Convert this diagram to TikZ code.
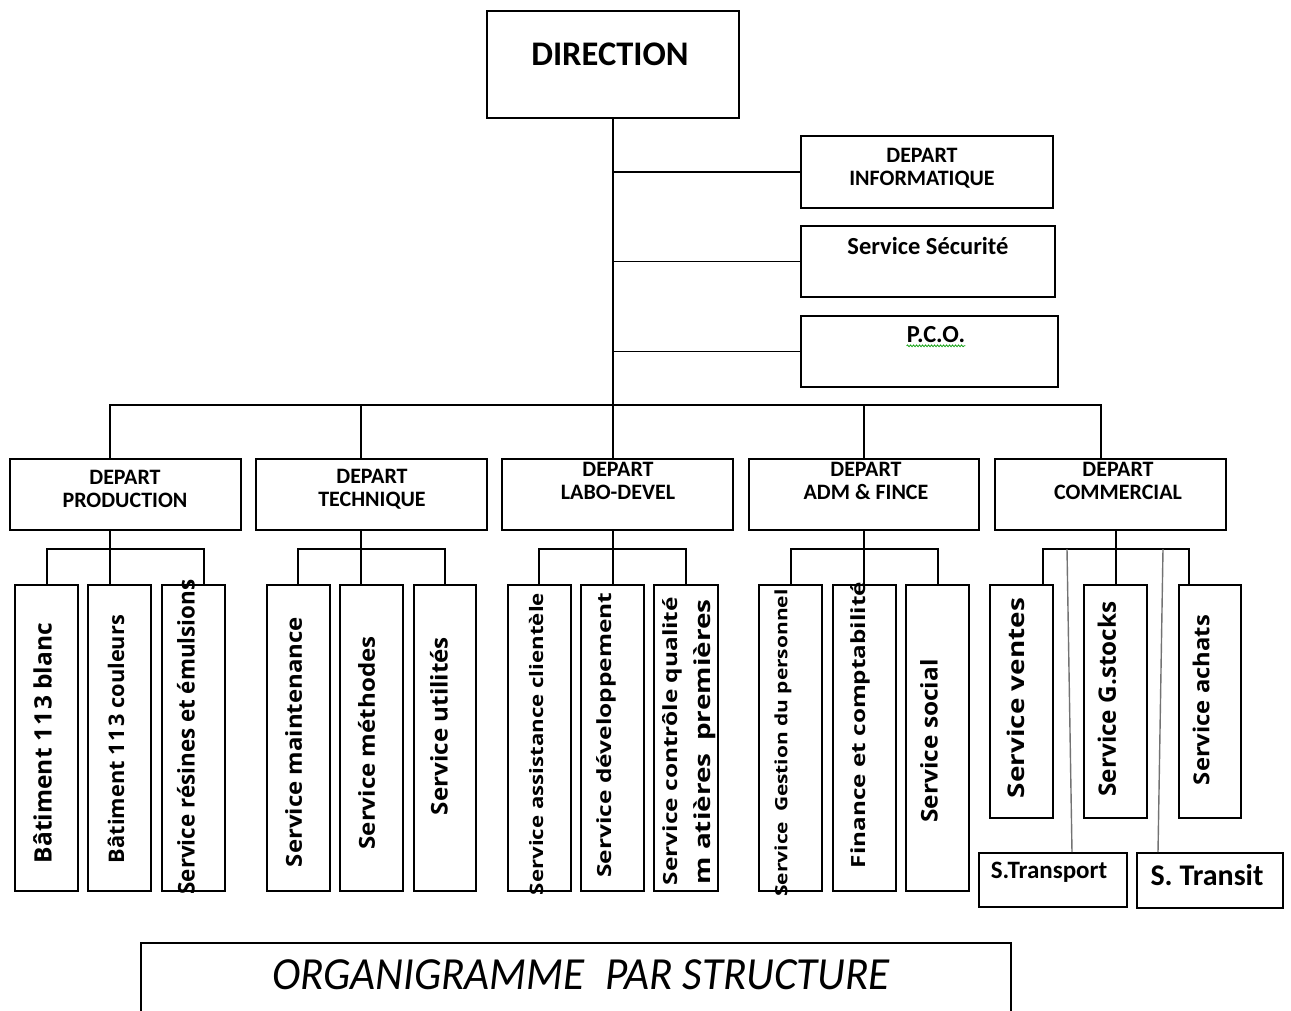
\documentclass[tikz,border=0pt]{standalone}
\usepackage{fontspec}
\setmainfont{Carlito}
\newfontfamily\vfont{Open Sans}
\usepackage{graphicx}
\usetikzlibrary{decorations.pathmorphing}
\tikzset{
  box/.style={draw=black, line width=1.6pt, inner sep=0pt},
  lnk/.style={draw=black, line width=1.6pt},
  glnk/.style={draw=black!55, line width=1.4pt},
  hd/.style={font=\bfseries\fontsize{22}{22.5}\selectfont, inner sep=0pt, align=center},
  vt/.style={rotate=90, inner sep=0pt},
}
\newcommand\bx[5]{\node[box,minimum width={(#4-#2)*1pt},minimum height={(#5-#3)*1pt}] (#1) at ({(#2+#4)/2},{(#3+#5)/2}) {};}
\newcommand\vtext[3]{\resizebox{#1pt}{\height}{\vfont\bfseries\fontsize{#2}{#2}\selectfont #3}}
\begin{document}
\begin{tikzpicture}[x=1pt,y=-1pt]
\useasboundingbox (0,0) rectangle (1291,1010);
\clip (0,0) rectangle (1291,1010);
% top
\bx{dir}{487}{11}{739}{118}
\node[inner sep=0pt, font=\bfseries\fontsize{34.5}{34.5}\selectfont] (dirt) at (610,54) {DIRECTION};
\bx{info}{801}{136}{1053}{208}
\node[hd] (infot) at (922,168) {DEPART\\INFORMATIQUE};
\bx{secu}{801}{226}{1055}{297}
\node[inner sep=0pt, font=\bfseries\fontsize{24.5}{24.5}\selectfont] (secut) at (928,246) {Service Sécurité};
\bx{pco}{801}{316}{1058}{387}
\node[inner sep=0pt, font=\bfseries\fontsize{24.5}{24.5}\selectfont] (pcot) at (936,335) {P.C.O.};
\draw[green!60!black, line width=0.7pt, decorate, decoration={snake, amplitude=0.9pt, segment length=3pt}] ([yshift=-2.5pt]pcot.south west) -- ([yshift=-2.5pt]pcot.south east);
% departments
\bx{prod}{10}{459}{241}{530}
\node[hd] (prodt) at (125,489) {DEPART\\PRODUCTION};
\bx{tech}{256}{459}{487}{530}
\node[hd] (techt) at (372,489) {DEPART\\TECHNIQUE};
\bx{labo}{502}{459}{733}{530}
\node[hd] (labot) at (618,481) {DEPART\\LABO-DEVEL};
\bx{adm}{749}{459}{979}{530}
\node[hd] (admt) at (866,481) {DEPART\\ADM \& FINCE};
\bx{comm}{995}{459}{1226}{530}
\node[hd] (commt) at (1118,481) {DEPART\\COMMERCIAL};
% trunk and branches
\draw[lnk] (dir.south) -- (dir.south |- labo.north);
\draw[lnk] (dir.south |- info.west) -- (info.west);
\draw[lnk] (dir.south |- secu.west) -- (secu.west);
\draw[lnk] (dir.south |- pco.west) -- (pco.west);
\coordinate (bl) at (110,405);
\coordinate (br) at (1101,405);
\draw[lnk] (bl |- prod.north) -- (bl) -- (br) -- (br |- comm.north);
\draw[lnk] (361,405) -- (361,0 |- tech.north);
\draw[lnk] (864,405) -- (864,0 |- adm.north);
% production services
\bx{p1}{15}{585}{78}{891}
\bx{p2}{88}{585}{151}{891}
\bx{p3}{162}{585}{225}{891}
\draw[lnk] (110,0 |- prod.south) -- (110,0 |- p2.north);
\draw[lnk] (47,0 |- p1.north) -- (47,549) -- (204,549) -- (204,0 |- p3.north);
\node[vt] (p1t) at (42.5,743) {\vtext{240}{24}{Bâtiment 1\kern2pt1\kern2pt3 blanc}};
\node[vt] (p2t) at (116,739) {\vtext{248}{21.5}{Bâtiment 1\kern2pt1\kern2pt3 couleurs}};
\node[vt] (p3t) at (186,737) {\vtext{315}{23}{Service résines et émulsions}};
% technique services
\bx{t1}{267}{585}{330}{891}
\bx{t2}{340}{585}{403}{891}
\bx{t3}{414}{585}{476}{891}
\draw[lnk] (361,0 |- tech.south) -- (361,0 |- t2.north);
\draw[lnk] (298,0 |- t1.north) -- (298,549) -- (445,549) -- (445,0 |- t3.north);
\node[vt] (t1t) at (293.5,742) {\vtext{250}{22}{Service maintenance}};
\node[vt] (t2t) at (366.5,743) {\vtext{213}{22}{Service méthodes}};
\node[vt] (t3t) at (439,726) {\vtext{178}{23}{Service utilités}};
% labo services
\bx{l1}{508}{585}{571}{891}
\bx{l2}{581}{585}{644}{891}
\bx{l3}{654}{585}{718}{891}
\draw[lnk] (613,0 |- labo.south) -- (613,0 |- l2.north);
\draw[lnk] (539,0 |- l1.north) -- (539,549) -- (686,549) -- (686,0 |- l3.north);
\node[vt] (l1t) at (536,744) {\vtext{302}{18.5}{Service assistance clientèle}};
\node[vt] (l2t) at (606,735) {\vtext{285}{19.5}{Service développement}};
\node[vt] (l3t) at (672,741) {\vtext{288}{19.5}{Service contrôle qualité}};
\node[vt] (l3u) at (705,742) {\vtext{285}{22}{m atières\hspace{10pt}premières}};
% adm services
\bx{a1}{759}{585}{822}{891}
\bx{a2}{833}{585}{896}{891}
\bx{a3}{906}{585}{969}{891}
\draw[lnk] (864,0 |- adm.south) -- (864,0 |- a2.north);
\draw[lnk] (791,0 |- a1.north) -- (791,549) -- (938,549) -- (938,0 |- a3.north);
\node[vt] (a1t) at (783,743) {\vtext{307}{17}{Service\hspace{8pt}Gestion du personnel}};
\node[vt] (a2t) at (860,725) {\vtext{286}{19.5}{Finance et comptabilité}};
\node[vt] (a3t) at (929,741) {\vtext{163}{23}{Service social}};
% commercial services
\bx{c1}{990}{585}{1053}{818}
\bx{c2}{1084}{585}{1147}{818}
\bx{c3}{1179}{585}{1241}{818}
\bx{c4}{979}{853}{1127}{907}
\bx{c5}{1137}{853}{1283}{908}
\draw[lnk] (1116,0 |- comm.south) -- (1116,0 |- c2.north);
\draw[lnk] (1043,0 |- c1.north) -- (1043,549) -- (1189,549) -- (1189,0 |- c3.north);
\draw[glnk] (1067,549) -- (1072,0 |- c4.north);
\draw[glnk] (1163,549) -- (1158,0 |- c5.north);
\node[vt] (c1t) at (1016,698) {\vtext{200}{23}{Service ventes}};
\node[vt] (c2t) at (1107,699) {\vtext{195}{24}{Service G.stocks}};
\node[vt] (c3t) at (1201,700) {\vtext{170}{22}{Service achats}};
\node[inner sep=0pt, font=\bfseries\fontsize{25}{25}\selectfont] (c4t) at (1049,872) {S.Transport};
\node[inner sep=0pt, font=\bfseries\fontsize{30}{30}\selectfont] (c5t) at (1207,875) {S. Transit};
% title
\node[inner sep=0pt] (title) at (581,975) {\resizebox{618pt}{\height}{\itshape\fontsize{46}{46}\selectfont ORGANIGRAMME\hspace{22pt}PAR STRUCTURE}};
\draw[lnk, line width=1.3pt] (141,1015) -- (141,943) -- (1011,943) -- (1011,1015);
\end{tikzpicture}
\end{document}
